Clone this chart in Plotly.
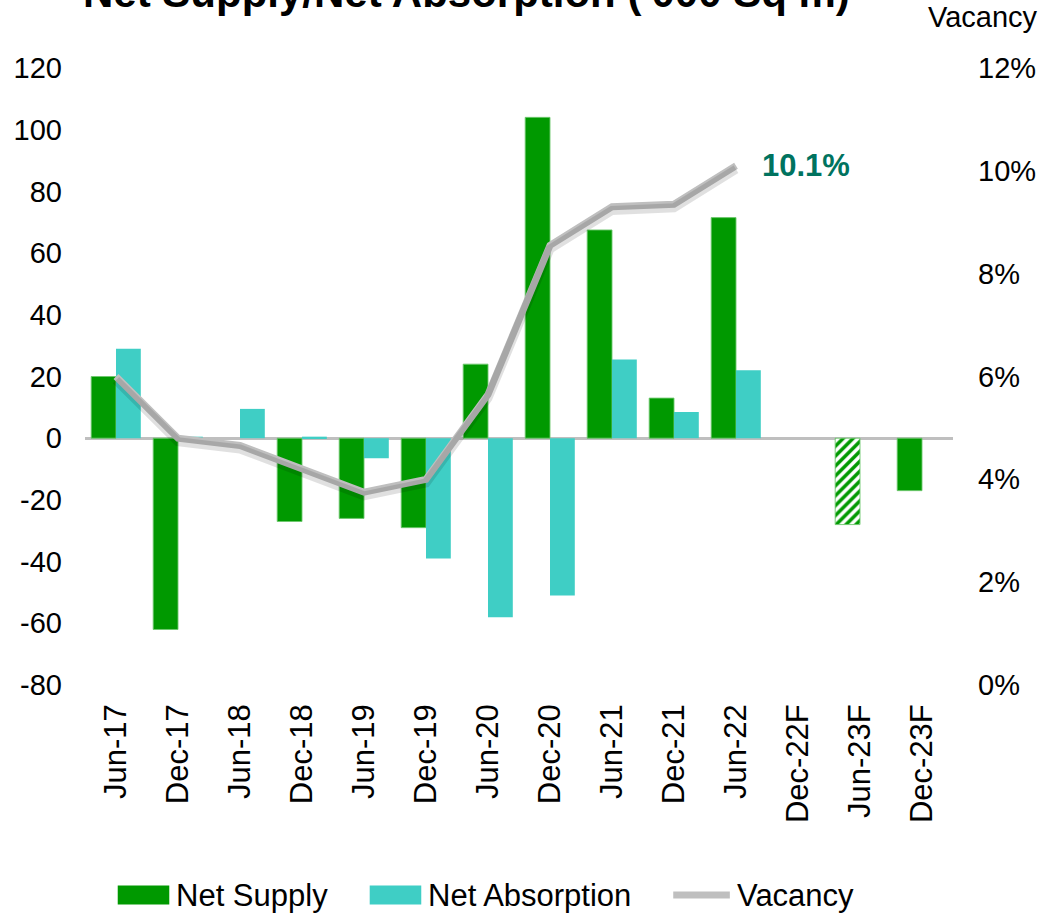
import plotly.graph_objects as go

# Half-year periods, forecasts marked with "F"
categories = ["Jun-17", "Dec-17", "Jun-18", "Dec-18", "Jun-19", "Dec-19", "Jun-20",
              "Dec-20", "Jun-21", "Dec-21", "Jun-22", "Dec-22F", "Jun-23F", "Dec-23F"]

# '000 sq m
net_supply = [20, -62, None, -27, -26, -29, 24, 104, 67.5, 13, 71.5, None, -28, -17]
net_absorption = [29, 0.5, 9.5, 0.5, -6.5, -39, -58, -51, 25.5, 8.5, 22, None, None, None]

# vacancy rate (fraction)
vacancy = [0.060, 0.048, 0.0466, 0.042, 0.0375, 0.040, 0.0565, 0.0855, 0.093, 0.0935, 0.101,
           None, None, None]

# forecast half-years drawn hatched
supply_patterns = ["", "", "", "", "", "", "", "", "", "", "", "", "/", ""]

left_ticks = [-80, -60, -40, -20, 0, 20, 40, 60, 80, 100, 120]
right_ticks = [0, 0.02, 0.04, 0.06, 0.08, 0.10, 0.12]

GREEN = "#009900"
TEAL = "#3fcec5"
GREY = "#bfbfbf"
FONT = "Arial, Liberation Sans, sans-serif"

VAC_RANGE = [0, 0.12]
# drop shadow under the vacancy line: same data on an axis nudged a few pixels
SHADOW_NUDGE = 0.0007

fig = go.Figure()

fig.add_trace(go.Bar(
    x=categories, y=net_supply, name="Net Supply",
    marker=dict(color=GREEN, line=dict(color="rgba(110,200,110,0.9)", width=1),
                pattern=dict(shape=supply_patterns, fgcolor=GREEN, bgcolor="white",
                             fillmode="replace", size=7, solidity=0.5)),
    showlegend=False,
))
fig.add_trace(go.Bar(
    x=categories, y=net_absorption, name="Net Absorption",
    marker=dict(color=TEAL, line=dict(width=0)),
    showlegend=False,
))
fig.add_trace(go.Scatter(
    x=categories, y=vacancy, name="Vacancy shadow", yaxis="y3", mode="lines",
    line=dict(color="rgba(0,0,0,0.12)", width=9), showlegend=False, hoverinfo="skip",
))
fig.add_trace(go.Scatter(
    x=categories, y=vacancy, name="Vacancy", yaxis="y2", mode="lines",
    line=dict(color=GREY, width=7), showlegend=False,
))

n_vac = len([v for v in vacancy if v is not None])
last_vac = vacancy[n_vac - 1]
last_cat = categories[n_vac - 1]

annotations = [
    dict(x=last_cat, y=last_vac, xref="x", yref="y2", text=f"<b>{last_vac*100:.1f}%</b>",
         showarrow=False, xanchor="left", yanchor="middle", xshift=24,
         font=dict(family=FONT, size=31, color="#00735f")),
    dict(x=0.44, y=1.122, xref="paper", yref="paper",
         text="<b>Net Supply/Net Absorption ('000 Sq m)</b>", showarrow=False,
         xanchor="center", yanchor="middle", font=dict(family=FONT, size=42, color="black")),
    dict(x=1.10, y=1.082, xref="paper", yref="paper", text="Vacancy", showarrow=False,
         xanchor="right", yanchor="middle", font=dict(family=FONT, size=29, color="black")),
]

# legend drawn as swatches + labels along the bottom
legend_y = -0.3404
shapes = [
    dict(type="rect", xref="paper", yref="paper", x0=0.0377, x1=0.0971,
         y0=legend_y - 0.0155, y1=legend_y + 0.0155, fillcolor=GREEN, line=dict(width=0)),
    dict(type="rect", xref="paper", yref="paper", x0=0.3280, x1=0.3874,
         y0=legend_y - 0.0155, y1=legend_y + 0.0155, fillcolor=TEAL, line=dict(width=0)),
    dict(type="line", xref="paper", yref="paper", x0=0.6777, x1=0.7429,
         y0=legend_y, y1=legend_y, line=dict(color=GREY, width=7)),
]
for xpos, label in [(0.1029, "Net Supply"), (0.3931, "Net Absorption"), (0.7486, "Vacancy")]:
    annotations.append(dict(x=xpos, y=legend_y, xref="paper", yref="paper", text=label,
                            showarrow=False, xanchor="left", yanchor="middle",
                            font=dict(family=FONT, size=31, color="black")))

fig.update_layout(
    width=1048, height=915,
    margin=dict(l=85, r=88, t=68, b=230),
    paper_bgcolor="white", plot_bgcolor="white",
    barmode="group", bargap=0.2, bargroupgap=0,
    font=dict(family=FONT, size=29, color="black"),
    xaxis=dict(type="category", categoryorder="array", categoryarray=categories,
               tickangle=-90, showgrid=False, showline=False, ticks="",
               ticklabelstandoff=12, tickfont=dict(size=31)),
    yaxis=dict(range=[-80, 120], tickvals=left_ticks, ticktext=[str(t) for t in left_ticks],
               showgrid=False, showline=False,
               zeroline=True, zerolinecolor=GREY, zerolinewidth=3, ticks="",
               ticklabelstandoff=22, tickfont=dict(size=29)),
    yaxis2=dict(range=VAC_RANGE, tickvals=right_ticks, tickformat=".0%", overlaying="y",
                side="right", showgrid=False, showline=False, zeroline=False, ticks="",
                ticklabelstandoff=24, tickfont=dict(size=29)),
    yaxis3=dict(range=[VAC_RANGE[0] + SHADOW_NUDGE, VAC_RANGE[1] + SHADOW_NUDGE],
                overlaying="y", visible=False),
    annotations=annotations,
    shapes=shapes,
    showlegend=False,
)

fig.write_html("out.html")
